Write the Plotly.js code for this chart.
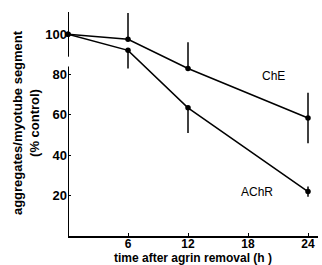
<!DOCTYPE html>
<html>
<head>
<meta charset="utf-8">
<script src="https://cdn.plot.ly/plotly-3.0.1.min.js"></script>
<style>html,body{margin:0;padding:0;background:#fff;}#chart{width:322px;height:265px;}</style>
</head>
<body>
<div id="chart"></div>
<script>
var hours = [0, 6, 12, 24];
var cheValues = [100, 97.5, 83, 58.5];
var chePlus = [11, 13, 13, 12.5];
var cheMinus = [11, 0, 0, 12.5];
var achrValues = [100, 92, 63.5, 22];
var achrPlus = [0, 0, 0, 2.5];
var achrMinus = [0, 9, 12.5, 2.5];
var xTickVals = [6, 12, 18, 24];
var yTickVals = [20, 40, 60, 80, 100];
var seriesLabels = ['ChE', 'AChR'];

var fontFam = 'Liberation Sans, Arial, sans-serif';

function trace(y, plus, minus, name) {
  return {
    x: hours, y: y, name: name, type: 'scatter', mode: 'lines+markers',
    line: {color: '#000', width: 1.5},
    marker: {color: '#000', size: 5.5},
    error_y: {type: 'data', symmetric: false, array: plus, arrayminus: minus,
              width: 0, thickness: 1.5, color: '#000'},
    cliponaxis: false, showlegend: false
  };
}

var data = [
  trace(cheValues, chePlus, cheMinus, seriesLabels[0]),
  trace(achrValues, achrPlus, achrMinus, seriesLabels[1])
];

var layout = {
  width: 322, height: 265,
  margin: {l: 68, r: 4, t: 10, b: 29},
  paper_bgcolor: '#fff', plot_bgcolor: '#fff',
  font: {family: fontFam, color: '#000', size: 12},
  xaxis: {
    range: [0, 25], showgrid: false, zeroline: false,
    showline: true, linecolor: '#000', linewidth: 2,
    tickvals: xTickVals, ticks: 'inside', ticklen: 3, tickcolor: '#000',
    ticklabelstandoff: -4,
    tickfont: {size: 12, family: fontFam, weight: 'bold'},
    title: {text: 'time after agrin removal (h )', font: {size: 12, family: fontFam, weight: 'bold'}, standoff: 0}
  },
  yaxis: {
    range: [0, 112], showgrid: false, zeroline: false, showline: false,
    tickvals: yTickVals, ticks: 'inside', ticklen: 3, tickcolor: '#000',
    tickfont: {size: 13, family: fontFam, weight: 'bold'},
    title: {text: 'aggregates/myotube segment<br>(% control)', font: {size: 13, family: fontFam, weight: 'bold'}, standoff: 2}
  },
  shapes: [
    {type: 'line', xref: 'x', yref: 'y', x0: 0, x1: 0, y0: 0, y1: 84, line: {color: '#000', width: 2}},
    {type: 'line', xref: 'x', yref: 'y', x0: 0, x1: 0, y0: 89, y1: 111, line: {color: '#000', width: 2}}
  ],
  annotations: [
    {x: 20.5, y: 79.5, xref: 'x', yref: 'y', text: seriesLabels[0], showarrow: false, font: {size: 12, family: fontFam}},
    {x: 18.9, y: 22, xref: 'x', yref: 'y', text: seriesLabels[1], showarrow: false, font: {size: 12, family: fontFam}}
  ]
};

Plotly.newPlot('chart', data, layout, {displayModeBar: false, staticPlot: true});
</script>
</body>
</html>
